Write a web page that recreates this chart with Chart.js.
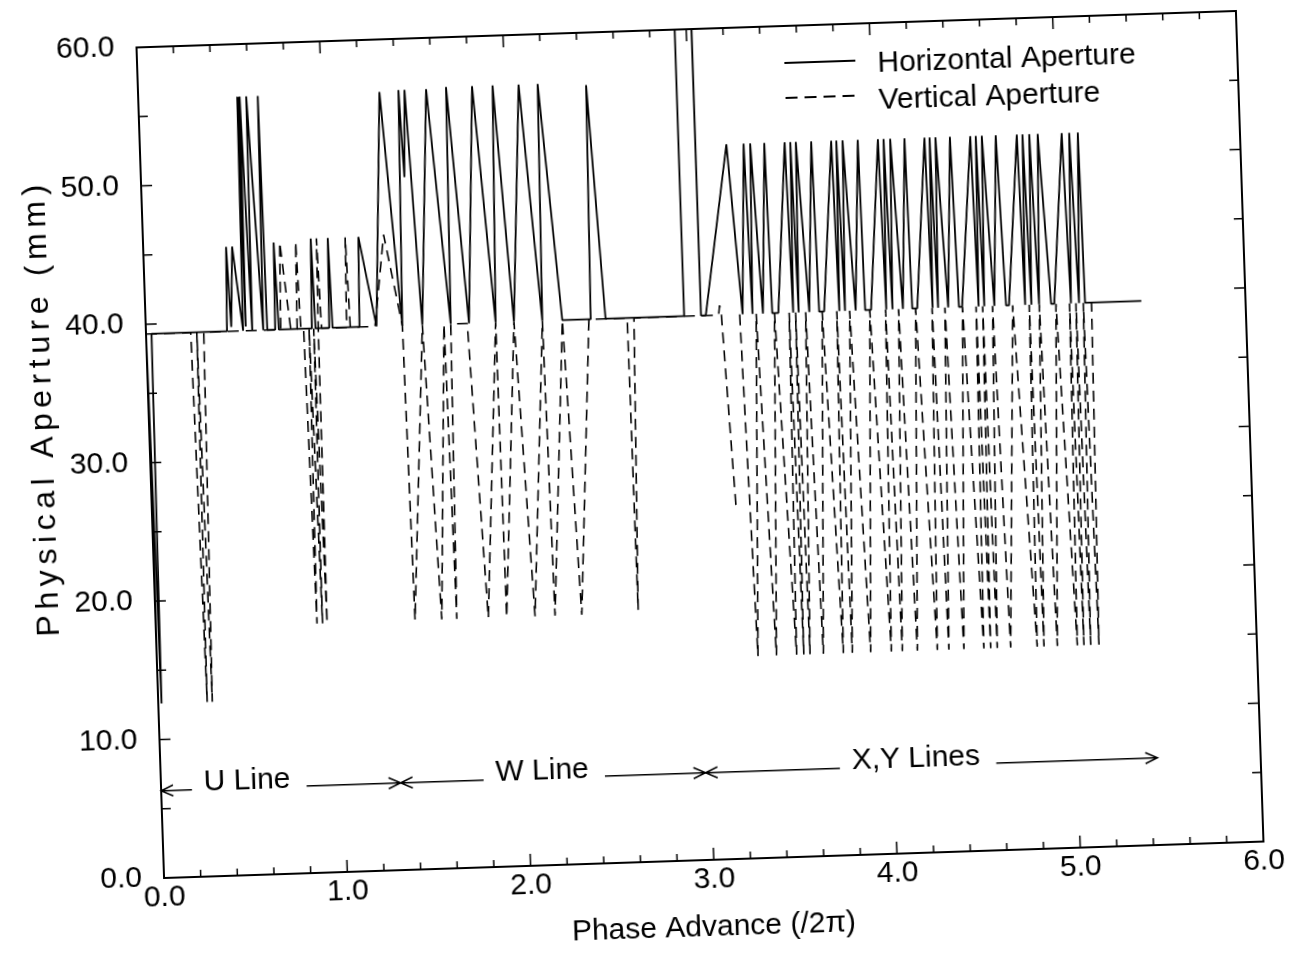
<!DOCTYPE html>
<html>
<head>
<meta charset="utf-8">
<title>Physical Aperture vs Phase Advance</title>
<script src="https://cdn.jsdelivr.net/npm/chart.js@4.4.1/dist/chart.umd.min.js"></script>
<style>
  html, body { margin: 0; padding: 0; background: #fff; }
  #wrap { position: relative; width: 1296px; height: 955px; overflow: hidden; background: #fff; }
  /* the original is a slightly skewed scan, so the whole canvas is turned a little */
  #apertureChart { position: absolute; left: 0; top: 0; transform: rotate(-1.9deg); transform-origin: 700px 445px; }
</style>
</head>
<body>
<div id="wrap"><canvas id="apertureChart" width="1296" height="955"></canvas></div>
<script>
// Horizontal aperture (solid line)
const horizPhase = [
  // U line
  0.000, 0.018, 0.030, 0.442, 0.452, 0.466, 0.485, 0.530, 0.540, 0.545, 0.553, 0.580, 0.589, 0.640,
  0.652, 0.662, 0.705, 0.712, 0.725, 0.905, 0.915, 0.925, 1.000, 1.008, 1.018, 1.165, 1.175, 1.258,
  // W line
  1.316, 1.399, 1.420, 1.437, 1.453, 1.508, 1.571, 1.663, 1.680, 1.763, 1.822, 1.908, 1.934, 2.008,
  2.076, 2.163, 2.180, 2.272, 2.427, 2.444, 2.508, 2.936, 2.937, 3.028, 3.029, 3.055,
  // X,Y lines
  3.198, 3.256, 3.292, 3.310, 3.328, 3.367, 3.405, 3.418, 3.451, 3.516, 3.532, 3.547, 3.562, 3.577,
  3.620, 3.661, 3.674, 3.701, 3.770, 3.784, 3.798, 3.815, 3.832, 3.873, 3.915, 3.925, 3.957, 4.025,
  4.040, 4.056, 4.074, 4.092, 4.131, 4.170, 4.182, 4.209, 4.279, 4.293, 4.307, 4.323, 4.339, 4.378,
  4.418, 4.437, 4.454, 4.529, 4.544, 4.559, 4.575, 4.592, 4.630, 4.668, 4.694, 4.710, 4.783, 4.798,
  4.814, 4.832, 4.851, 4.874, 4.897, 4.940, 4.957, 5.028, 5.048, 5.069, 5.092, 5.116, 5.125, 5.432
];
const horizAperture = [
  39.3, 12.6, 39.3, 39.3, 45.4, 39.6, 45.4, 39.3, 56.2, 39.6, 56.2, 39.3, 56.2, 39.3,
  56.2, 39.3, 39.3, 45.6, 39.3, 39.3, 45.8, 39.3, 39.3, 45.8, 39.3, 39.3, 45.8, 39.3,
  56.2, 39.3, 56.3, 50.0, 56.3, 39.3, 56.3, 39.3, 56.4, 39.3, 56.4, 39.3, 56.4, 39.3,
  56.4, 39.3, 56.4, 39.3, 39.3, 56.2, 39.3, 39.3, 80.0, 80.0, 39.3, 39.3,
  51.6, 39.3, 51.6, 39.3, 51.6, 39.3, 51.6, 39.3, 39.3, 51.6, 39.3, 51.6, 39.3, 51.6,
  39.3, 51.6, 39.3, 39.3, 51.6, 39.3, 51.6, 39.3, 51.6, 39.3, 51.6, 39.3, 39.3, 51.6,
  39.3, 51.6, 39.3, 51.6, 39.3, 51.6, 39.3, 39.3, 51.6, 39.3, 51.6, 39.3, 51.6, 39.3,
  51.6, 39.3, 39.3, 51.6, 39.3, 51.6, 39.3, 51.6, 39.3, 51.6, 39.3, 39.3, 51.6, 39.3,
  51.6, 39.3, 51.6, 39.3, 51.6, 39.3, 39.3, 51.6, 39.3, 51.6, 39.3, 51.6, 39.3, 39.3
];

// Vertical aperture (dashed line)
const vertPhase = [
  // U line
  0.000, 0.244, 0.267, 0.277, 0.295, 0.315, 0.735, 0.745, 0.790, 0.825, 0.832, 0.845, 0.860, 0.880,
  0.890, 0.910, 0.915, 0.935, 0.940, 0.946, 0.958, 1.095, 1.103, 1.115, 1.250, 1.313, 1.399,
  // W line
  1.415, 1.508, 1.561, 1.626, 1.643, 1.663, 1.753, 1.815, 1.908, 1.915, 2.008, 2.070, 2.163, 2.179,
  2.272, 2.325, 2.417, 2.626, 2.633, 2.663,
  // X,Y lines
  3.125, 3.132, 3.140, 3.185, 3.190, 3.240, 3.278, 3.330, 3.379, 3.430, 3.489, 3.510, 3.528, 3.545,
  3.562, 3.600, 3.635, 3.690, 3.744, 3.770, 3.793, 3.840, 3.893, 3.950, 4.006, 4.036, 4.066, 4.107,
  4.148, 4.200, 4.257, 4.290, 4.320, 4.360, 4.402, 4.456, 4.511, 4.530, 4.548, 4.566, 4.584, 4.620,
  4.657, 4.730, 4.802, 4.820, 4.839, 4.875, 4.912, 4.966, 5.021, 5.040, 5.057, 5.075, 5.094, 5.115,
  5.139, 5.160
];
const vertAperture = [
  39.3, 39.3, 12.6, 39.3, 12.6, 39.3, 39.3, 45.6, 39.3, 39.3, 45.6, 39.3, 39.3, 18.0,
  39.3, 18.0, 39.3, 18.0, 39.3, 45.8, 39.3, 39.3, 45.8, 39.3, 39.3, 45.9, 39.3,
  18.0, 39.3, 18.0, 39.3, 18.0, 39.3, 39.3, 18.0, 39.3, 18.0, 39.3, 18.0, 39.3, 18.0,
  39.3, 18.0, 39.3, 39.3, 18.2, 39.3,
  39.3, 40.0, 39.3, 25.5, null, 39.3, 14.6, 39.3, 14.6, 39.3, 14.6, 39.3, 14.6, 39.3,
  14.6, 39.3, 14.6, 39.3, 14.6, 39.3, 14.6, 39.3, 14.6, 39.3, 14.6, 39.3, 14.6, 39.3,
  14.6, 39.3, 14.6, 39.3, 14.6, 39.3, 14.6, 39.3, 14.6, 39.3, 14.6, 39.3, 14.6, 39.3,
  14.6, 39.3, 14.6, 39.3, 14.6, 39.3, 14.6, 39.3, 14.6, 39.3, 14.6, 39.3, 14.6, 39.3,
  14.6, 39.3
];

// beam line sections marked along the bottom of the plot
const sectionNames = ["U Line", "W Line", "X,Y Lines"];
const sectionStart = [0.0, 1.307, 2.971];
const sectionEnd = [1.307, 2.971, 5.437];
const sectionLabelAt = [0.47, 2.08, 4.12];
const sectionLevel = 6.3;

const xTicks = [0, 1, 2, 3, 4, 5, 6];
const yTicks = [0, 10, 20, 30, 40, 50, 60];

const FONT = "'Liberation Sans', Arial, Helvetica, sans-serif";

function toPoints(xs, ys) {
    return xs.map((v, i) => ({ x: v, y: ys[i] }));
}

// frame, inward ticks, legend, titles and section arrows
const decorations = {
    id: "decorations",
    afterDatasetsDraw(chart) {
        const { ctx, chartArea: a, scales: { x, y } } = chart;
        ctx.save();
        ctx.strokeStyle = "#000";
        ctx.fillStyle = "#000";

        // frame
        ctx.lineWidth = 2;
        ctx.strokeRect(a.left, a.top, a.right - a.left, a.bottom - a.top);

        // ticks pointing into the plot
        ctx.lineWidth = 1.5;
        ctx.beginPath();
        for (let i = 0; i <= 30; i++) {
            const px = x.getPixelForValue(i * 0.2);
            const len = i % 5 === 0 ? 12 : 7;
            ctx.moveTo(px, a.bottom); ctx.lineTo(px, a.bottom - len);
            ctx.moveTo(px, a.top); ctx.lineTo(px, a.top + len);
        }
        for (let i = 0; i <= 12; i++) {
            const py = y.getPixelForValue(i * 5);
            const len = i % 2 === 0 ? 11 : 9;
            ctx.moveTo(a.left, py); ctx.lineTo(a.left + len, py);
            ctx.moveTo(a.right, py); ctx.lineTo(a.right - len, py);
        }
        ctx.stroke();

        // legend
        const ds = chart.data.datasets;
        ctx.font = "30px " + FONT;
        ctx.textBaseline = "middle";
        ctx.textAlign = "left";
        ctx.lineWidth = 1.8;
        ctx.beginPath();
        ctx.moveTo(a.right - 453, a.top + 37); ctx.lineTo(a.right - 382, a.top + 37);
        ctx.stroke();
        ctx.fillText(ds[0].label, a.right - 360, a.top + 41);
        ctx.setLineDash([12, 7]);
        ctx.beginPath();
        ctx.moveTo(a.right - 453, a.top + 72); ctx.lineTo(a.right - 382, a.top + 72);
        ctx.stroke();
        ctx.setLineDash([]);
        ctx.fillText(ds[1].label, a.right - 360, a.top + 78);

        // section arrows
        ctx.lineWidth = 1.5;
        const py = y.getPixelForValue(sectionLevel);
        sectionNames.forEach((name, i) => {
            const x0 = x.getPixelForValue(sectionStart[i]);
            const x1 = x.getPixelForValue(sectionEnd[i]);
            const cx = x.getPixelForValue(sectionLabelAt[i]);
            const w = ctx.measureText(name).width;
            ctx.beginPath();
            ctx.moveTo(x0, py); ctx.lineTo(cx - w / 2 - 12, py);
            ctx.moveTo(cx + w / 2 + 16, py); ctx.lineTo(x1, py);
            ctx.moveTo(x0 + 12, py - 5.5); ctx.lineTo(x0, py); ctx.lineTo(x0 + 12, py + 5.5);
            ctx.moveTo(x1 - 12, py - 5.5); ctx.lineTo(x1, py); ctx.lineTo(x1 - 12, py + 5.5);
            ctx.stroke();
            ctx.textAlign = "center";
            ctx.fillText(name, cx, py - 7);
        });

        // axis titles
        ctx.textAlign = "center";
        ctx.fillText("Phase Advance (/2\u03c0)", 698, 928);
        ctx.translate(44, 386);
        ctx.rotate(-Math.PI / 2);
        ctx.font = "32px " + FONT;
        ctx.letterSpacing = "5.6px";
        ctx.fillText("Physical Aperture (mm)", 0, 0);

        ctx.restore();
    }
};

let ctx = document.getElementById("apertureChart").getContext("2d");
new Chart(ctx, {
    type: "line",
    data: {
        datasets: [{
            label: "Horizontal Aperture",
            data: toPoints(horizPhase, horizAperture),
            borderColor: "#000",
            borderWidth: 1.8,
            pointRadius: 0,
            tension: 0,
            fill: false,
            borderJoinStyle: "bevel"
        }, {
            label: "Vertical Aperture",
            data: toPoints(vertPhase, vertAperture),
            borderColor: "#000",
            borderWidth: 1.6,
            borderDash: [11, 7],
            pointRadius: 0,
            tension: 0,
            fill: false,
            spanGaps: false,
            borderJoinStyle: "bevel"
        }]
    },
    options: {
        responsive: false,
        animation: false,
        devicePixelRatio: 1,
        layout: { padding: { left: 0, top: 29, right: 46, bottom: 0 } },
        plugins: {
            legend: { display: false },
            tooltip: { enabled: false }
        },
        scales: {
            x: {
                type: "linear",
                min: 0,
                max: 6,
                afterFit: s => { s.height = 95; s.paddingLeft = 0; s.paddingRight = 0; },
                afterBuildTicks: s => { s.ticks = xTicks.map(v => ({ value: v })); },
                grid: { display: false, drawTicks: false },
                border: { display: false },
                ticks: {
                    color: "#000",
                    padding: 2,
                    maxRotation: 0,
                    font: { family: FONT, size: 30 },
                    callback: v => Number(v).toFixed(1)
                }
            },
            y: {
                min: 0,
                max: 60,
                afterFit: s => { s.width = 150; s.paddingTop = 0; s.paddingBottom = 0; },
                afterBuildTicks: s => { s.ticks = yTicks.map(v => ({ value: v })); },
                grid: { display: false, drawTicks: false },
                border: { display: false },
                ticks: {
                    color: "#000",
                    padding: 22,
                    font: { family: FONT, size: 30 },
                    callback: v => Number(v).toFixed(1)
                }
            }
        }
    },
    plugins: [decorations]
});
</script>
</body>
</html>
